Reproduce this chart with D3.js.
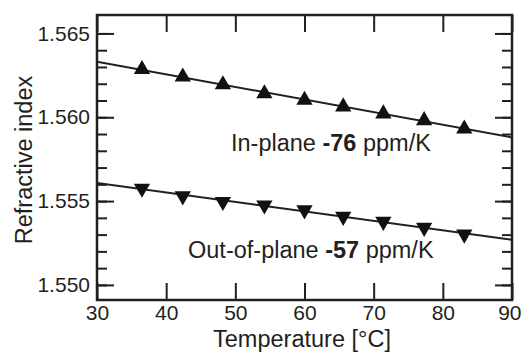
<!DOCTYPE html>
<html>
<head>
<meta charset="utf-8">
<script src="https://cdn.jsdelivr.net/npm/d3@7"></script>
<style>
	body { margin: 0; background: #fff; }
	svg { display: block; font-family: "Liberation Sans", Arial, sans-serif; }
</style>
</head>
<body>
<div id="chart"></div>
<script>
// temperatures [°C]
const temps = [36.5, 42.4, 48.2, 54.2, 60.0, 65.6, 71.4, 77.3, 83.1];
// refractive index, in-plane (up triangles)
const inPlane = [1.56286, 1.56241, 1.56195, 1.56141, 1.56102, 1.56063, 1.56021, 1.55981, 1.55931];
// refractive index, out-of-plane (down triangles)
const outOfPlane = [1.55576, 1.55530, 1.55497, 1.55476, 1.55447, 1.55408, 1.55378, 1.55342, 1.55302];
const xTicks = [30, 40, 50, 60, 70, 80, 90];
const yTicks = [1.550, 1.555, 1.560, 1.565];
const yMinor = d3.range(1550, 1566).map(d => d / 1000);
const labels = [
	{ pre: "In-plane ", bold: "-76", post: " ppm/K" },
	{ pre: "Out-of-plane ", bold: "-57", post: " ppm/K" }
];

const width = 522, height = 354;
const m = { top: 15, right: 10, bottom: 54, left: 97 };
const ink = "#231f20";

const svg = d3.select("#chart").append("svg")
	.attr("width", width)
	.attr("height", height);

const x = d3.scaleLinear().domain([30, 90]).range([m.left, width - m.right]);
const y = d3.scaleLinear().domain([1.5491, 1.5661]).range([height - m.bottom, m.top]);

function styleAxis(g) {
	g.select(".domain").remove();
	g.selectAll("line").attr("stroke", ink).attr("stroke-width", 2);
	g.selectAll("text").attr("fill", ink).attr("font-size", 21);
}

// minor y ticks, left and right
svg.append("g")
	.attr("transform", `translate(${m.left},0)`)
	.call(d3.axisLeft(y).tickValues(yMinor).tickSize(-10).tickFormat(""))
	.call(styleAxis);
svg.append("g")
	.attr("transform", `translate(${width - m.right},0)`)
	.call(d3.axisRight(y).tickValues(yMinor).tickSize(-10).tickFormat(""))
	.call(styleAxis);

// major y ticks
svg.append("g")
	.attr("transform", `translate(${m.left},0)`)
	.call(d3.axisLeft(y).tickValues(yTicks).tickSize(-17).tickPadding(7).tickFormat(d3.format(".3f")))
	.call(styleAxis);
svg.append("g")
	.attr("transform", `translate(${width - m.right},0)`)
	.call(d3.axisRight(y).tickValues(yTicks).tickSize(-17).tickFormat(""))
	.call(styleAxis);

// x ticks, bottom and top
const xAxis = svg.append("g")
	.attr("transform", `translate(0,${height - m.bottom})`)
	.call(d3.axisBottom(x).tickValues(xTicks).tickSize(-17).tickPadding(5).tickFormat(d3.format("d")))
	.call(styleAxis);
// last label pulled in so it stays on the page
xAxis.selectAll(".tick text").filter(d => d === 90)
	.attr("text-anchor", "end")
	.attr("x", 9);

svg.append("g")
	.attr("transform", `translate(0,${m.top})`)
	.call(d3.axisTop(x).tickValues(xTicks).tickSize(-17).tickFormat(""))
	.call(styleAxis);

// frame
svg.append("rect")
	.attr("x", m.left)
	.attr("y", m.top)
	.attr("width", width - m.left - m.right)
	.attr("height", height - m.top - m.bottom)
	.attr("fill", "none")
	.attr("stroke", ink)
	.attr("stroke-width", 2.5);

// axis titles
svg.append("text")
	.attr("x", 302)
	.attr("y", 347)
	.attr("text-anchor", "middle")
	.attr("font-size", 23.5)
	.attr("fill", ink)
	.text("Temperature [°C]");

svg.append("text")
	.attr("transform", "translate(32,160) rotate(-90)")
	.attr("text-anchor", "middle")
	.attr("font-size", 23.5)
	.attr("fill", ink)
	.text("Refractive index");

// least-squares fit line for each series
function fit(xs, ys) {
	const mx = d3.mean(xs), my = d3.mean(ys);
	const b = d3.sum(xs, (v, i) => (v - mx) * (ys[i] - my)) / d3.sum(xs, v => (v - mx) ** 2);
	return t => my + b * (t - mx);
}

svg.append("clipPath").attr("id", "plot")
	.append("rect")
	.attr("x", m.left).attr("y", m.top)
	.attr("width", width - m.left - m.right)
	.attr("height", height - m.top - m.bottom);

const series = [
	{ values: inPlane, rot: 0 },
	{ values: outOfPlane, rot: 180 }
];

const plot = svg.append("g").attr("clip-path", "url(#plot)");
const line = d3.line().x(d => x(d[0])).y(d => y(d[1]));

series.forEach(s => {
	const f = fit(temps, s.values);
	plot.append("path")
		.attr("d", line(x.domain().map(t => [t, f(t)])))
		.attr("fill", "none")
		.attr("stroke", ink)
		.attr("stroke-width", 2);

	plot.selectAll(null)
		.data(temps)
		.enter().append("path")
		.attr("d", d3.symbol(d3.symbolTriangle, 115))
		.attr("transform", (d, i) => `translate(${x(d)},${y(s.values[i])}) rotate(${s.rot})`)
		.attr("fill", "#111");
});

// slope annotations
const annPos = [[231, 151], [188, 258]];
labels.forEach((l, i) => {
	const t = svg.append("text")
		.attr("x", annPos[i][0])
		.attr("y", annPos[i][1])
		.attr("font-size", 23.5)
		.attr("fill", ink);
	t.append("tspan").text(l.pre);
	t.append("tspan").attr("font-weight", "bold").text(l.bold);
	t.append("tspan").text(l.post);
});
</script>
</body>
</html>
